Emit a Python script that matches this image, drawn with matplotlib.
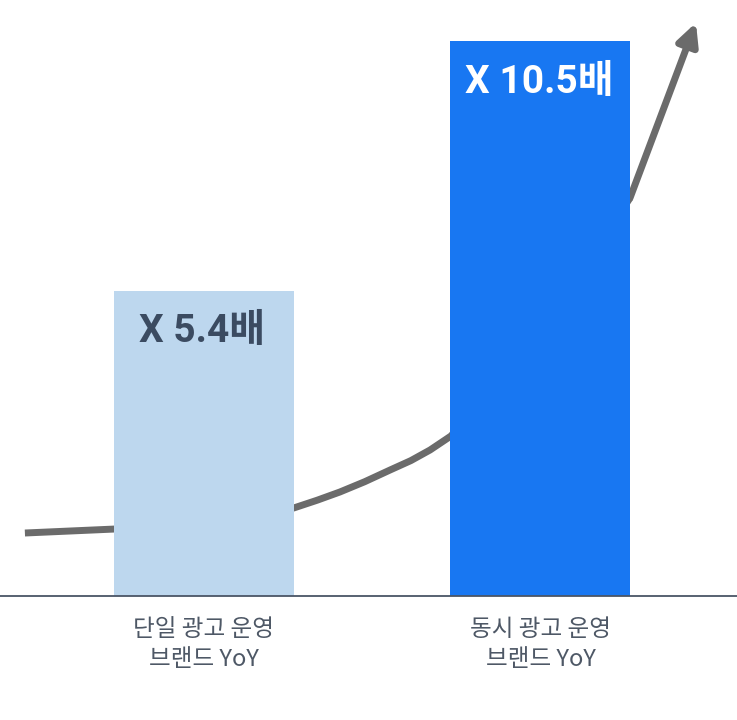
import matplotlib.pyplot as plt

plt.rcParams['font.family'] = ['Noto Sans CJK KR', 'DejaVu Sans']

# data
categories = ['단일 광고 운영\n브랜드 YoY', '동시 광고 운영\n브랜드 YoY']
bar_heights = [5.5, 10.0]          # visual bar height
bar_labels = ['X 5.4배', 'X 10.5배']
bar_colors = ['#bdd7ee', '#1877f2']
label_colors = ['#3b4b61', '#ffffff']

# growth curve (x in category units, y in bar units)
curve_x = [-0.532, -0.264, 0.0, 0.267, 0.336, 0.404, 0.478, 0.553, 0.615, 0.672, 0.734, 1.0, 1.266]
curve_y = [1.135, 1.207, 1.32, 1.586, 1.725, 1.874, 2.06, 2.270, 2.44, 2.631, 2.883, 4.7, 7.171]
arrow_tip = (1.462, 10.33)

fig = plt.figure(figsize=(7.37, 7.2), dpi=100)
ax = fig.add_axes([0, 124 / 720, 1, 596 / 720])

ax.plot(curve_x, curve_y, color='#6b6b6b', lw=5, solid_capstyle='butt',
        solid_joinstyle='round', zorder=1)
ax.annotate('', xy=arrow_tip, xytext=(curve_x[-1], curve_y[-1]),
            arrowprops=dict(arrowstyle='-|>', color='#6b6b6b', lw=5,
                            mutation_scale=32, shrinkA=0, shrinkB=0),
            zorder=1)

xs = list(range(len(categories)))
ax.bar(xs, bar_heights, width=0.535, color=bar_colors, zorder=2)

for x, h, lab, c in zip(xs, bar_heights, bar_labels, label_colors):
    ax.text(x - 0.005, h - 0.74, lab, ha='center', va='center', fontsize=28,
            fontweight='bold', color=c, zorder=3,
            family=['Roboto', 'Noto Sans CJK KR'])

ax.set_xlim(-0.606, 1.584)
ax.set_ylim(0, 10.739)
for s in ['top', 'right', 'left']:
    ax.spines[s].set_visible(False)
ax.spines['bottom'].set_color('#4a5566')
ax.spines['bottom'].set_linewidth(1.3)
ax.set_yticks([])
ax.set_xticks(xs)
ax.set_xticklabels(categories, fontsize=17, color='#4e5866', linespacing=1.4)
ax.tick_params(axis='x', length=0, pad=16)

fig.savefig('out.png', dpi=100)
